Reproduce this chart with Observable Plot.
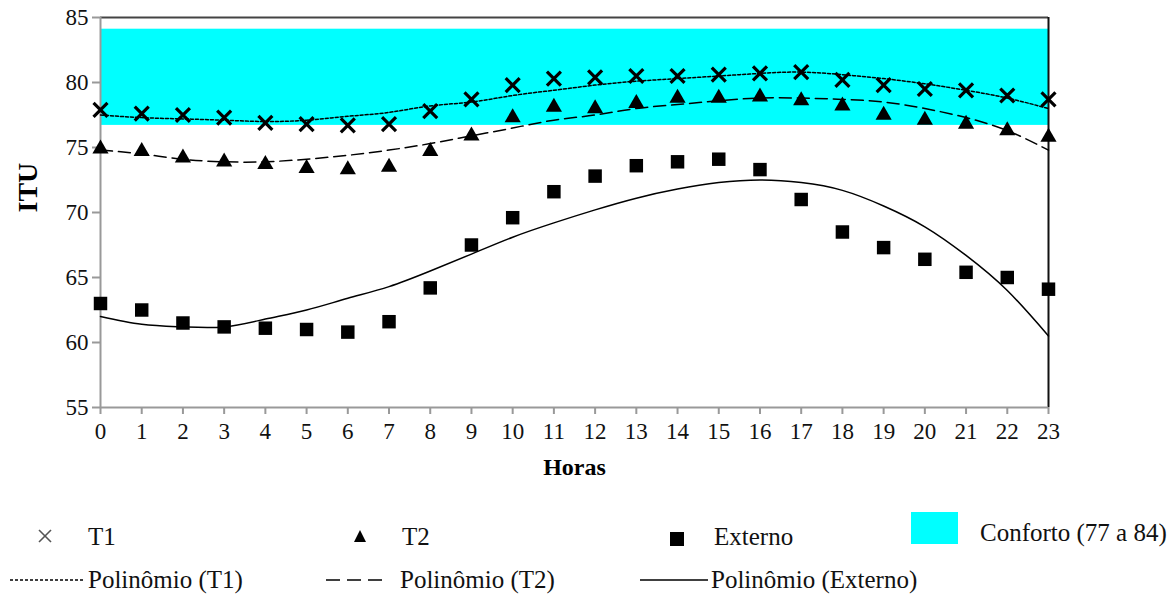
<!DOCTYPE html>
<html><head><meta charset="utf-8">
<script src="https://cdn.jsdelivr.net/npm/d3@7"></script>
<script src="https://cdn.jsdelivr.net/npm/@observablehq/plot@0.6"></script>
<style>
body{margin:0;background:#fff;}
#wrap{position:relative;width:1174px;height:596px;overflow:hidden;background:#fff;}
#chart svg{display:block}
#legend{position:absolute;left:0;top:500px;}
</style></head><body>
<div id="wrap"><div id="chart"></div>
<svg id="legend" width="1174" height="96" font-family="Liberation Serif, Times New Roman, serif" font-size="25">
  <g stroke="#555" stroke-width="1.6"><line x1="39" y1="30" x2="51" y2="42"/><line x1="51" y1="30" x2="39" y2="42"/></g>
  <text x="88" y="45" fill="#111" font-family="Liberation Serif">T1</text>
  <polygon points="360,30 354,42 366,42" fill="#000"/>
  <text x="402" y="45" fill="#111" font-family="Liberation Serif">T2</text>
  <rect x="670" y="32" width="14" height="14" fill="#000"/>
  <text x="714" y="45" fill="#111" font-family="Liberation Serif">Externo</text>
  <rect x="911" y="12" width="47" height="32" fill="#00ffff"/>
  <text x="980" y="41" fill="#111" font-family="Liberation Serif">Conforto (77 a 84)</text>
  <line x1="10" y1="80" x2="85" y2="80" stroke="#000" stroke-width="1.5" stroke-dasharray="3,2"/>
  <text x="88" y="88" fill="#111" font-family="Liberation Serif">Polinômio (T1)</text>
  <line x1="326" y1="80" x2="386" y2="80" stroke="#000" stroke-width="1.5" stroke-dasharray="14,7"/>
  <text x="400" y="88" fill="#111" font-family="Liberation Serif">Polinômio (T2)</text>
  <line x1="640" y1="80" x2="708" y2="80" stroke="#000" stroke-width="1.5"/>
  <text x="711" y="88" fill="#111" font-family="Liberation Serif">Polinômio (Externo)</text>
</svg>
</div>
<script>
const hours = [0,1,2,3,4,5,6,7,8,9,10,11,12,13,14,15,16,17,18,19,20,21,22,23];
const yTicks = [55,60,65,70,75,80,85];
const t1 = [77.9,77.6,77.5,77.3,76.9,76.8,76.7,76.8,77.8,78.7,79.8,80.3,80.4,80.5,80.5,80.6,80.7,80.8,80.2,79.8,79.5,79.4,79.0,78.7];
const t2 = [74.9,74.7,74.2,73.9,73.7,73.4,73.3,73.5,74.7,75.9,77.3,78.1,78.0,78.4,78.8,78.8,78.9,78.6,78.2,77.5,77.1,76.8,76.3,75.8];
const externo = [63.0,62.5,61.5,61.2,61.1,61.0,60.8,61.6,64.2,67.5,69.6,71.6,72.8,73.6,73.9,74.1,73.3,71.0,68.5,67.3,66.4,65.4,65.0,64.1];
const polyT1 = [77.5,77.3,77.2,77.1,77.0,77.1,77.4,77.7,78.2,78.5,79.0,79.4,79.8,80.1,80.3,80.5,80.7,80.8,80.6,80.3,79.9,79.4,78.8,78.0];
const polyT2 = [74.8,74.5,74.1,73.9,73.9,74.1,74.4,74.8,75.3,75.9,76.5,77.1,77.5,78.0,78.3,78.6,78.8,78.8,78.7,78.5,78.0,77.3,76.3,74.8];
const polyExterno = [62.0,61.4,61.2,61.2,61.8,62.5,63.4,64.3,65.5,66.8,68.1,69.2,70.2,71.1,71.8,72.3,72.5,72.3,71.7,70.5,68.9,66.7,64.0,60.5];
const confortoLow = 76.7, confortoHigh = 84.1;

const tab = (vals) => hours.map((h, i) => ({hora: h, itu: vals[i]}));
const serif = '"Liberation Serif", "Times New Roman", serif';

const chart = Plot.plot({
  width: 1174, height: 500,
  marginLeft: 100, marginRight: 126, marginTop: 17, marginBottom: 93,
  style: {fontFamily: serif, fontSize: "23px", color: "#111", background: "#fff"},
  x: {domain: [0, 23]},
  y: {domain: [55, 85]},
  marks: [
    Plot.rect([{lo: confortoLow, hi: confortoHigh}], {x1: 0, x2: 23, y1: "lo", y2: "hi", fill: "#00ffff"}),
    Plot.ruleY([85], {x1: 0, x2: 23, stroke: "#444", strokeWidth: 2}),
    Plot.ruleX([23], {y1: 55, y2: 85, stroke: "#111", strokeWidth: 2}),
    Plot.ruleX([0], {y1: 55, y2: 85, stroke: "#999", strokeWidth: 2}),
    Plot.ruleY([55], {x1: 0, x2: 23, stroke: "#999", strokeWidth: 2}),
    Plot.axisY({ticks: yTicks, tickSize: 8, tickPadding: 4, stroke: "#999", strokeWidth: 2, label: null, fontSize: 23}),
    Plot.axisX({ticks: hours, tickSize: 7, tickPadding: 8, stroke: "#999", strokeWidth: 2, label: null, fontSize: 23}),
    Plot.line(tab(polyT1), {x: "hora", y: "itu", curve: "natural", stroke: "#000", strokeWidth: 1.5, strokeDasharray: "3,2"}),
    Plot.line(tab(polyT2), {x: "hora", y: "itu", curve: "natural", stroke: "#000", strokeWidth: 1.5, strokeDasharray: "12,6"}),
    Plot.line(tab(polyExterno), {x: "hora", y: "itu", curve: "natural", stroke: "#000", strokeWidth: 1.5}),
    Plot.dot(tab(t1), {x: "hora", y: "itu", symbol: "times", r: 6.4, stroke: "#000", strokeWidth: 3.2}),
    Plot.dot(tab(t2), {x: "hora", y: "itu", symbol: "triangle", r: 6, fill: "#000", stroke: "none"}),
    Plot.dot(tab(externo), {x: "hora", y: "itu", symbol: "square", r: 7.6, fill: "#000", stroke: "none"}),
    Plot.text(["ITU"], {frameAnchor: "left", dx: -72, rotate: -90, fontSize: 28, fontWeight: "bold", fill: "#000"}),
    Plot.text(["Horas"], {frameAnchor: "bottom", dy: 67, fontSize: 24, fontWeight: "bold", fill: "#000"})
  ]
});
document.getElementById("chart").appendChild(chart);
</script>
</body></html>
